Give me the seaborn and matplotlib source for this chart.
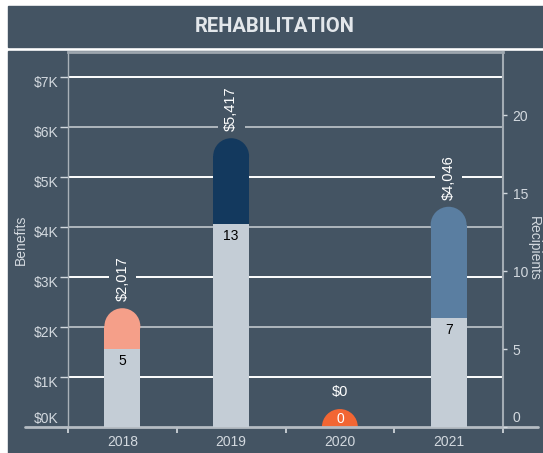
import matplotlib
matplotlib.use('Agg')
import matplotlib.pyplot as plt
from matplotlib.patches import Rectangle, Ellipse
from matplotlib.transforms import ScaledTranslation
import seaborn as sns
import pandas as pd

years = ['2018', '2019', '2020', '2021']
benefits = [2017, 5417, 0, 4046]
recipients = [5, 13, 0, 7]
bar_colors = ['#f59f89', '#13395e', '#f26633', '#5a7ea1']

SLATE = '#445463'
GREY_BAR = '#c4cdd6'
LIGHT = '#d3d9df'

sns.set_style('white')
plt.rcParams['font.family'] = ['Liberation Sans', 'DejaVu Sans']

W, H = 543, 453
fig = plt.figure(figsize=(W / 100, H / 100), dpi=100, facecolor='white')

# background panels
fig.patches.append(Rectangle((8 / W, (H - 47) / H), (W - 8) / W, 41 / H,
                             transform=fig.transFigure, color=SLATE, zorder=-10))
fig.patches.append(Rectangle((8 / W, 0), (W - 8) / W, (H - 51) / H,
                             transform=fig.transFigure, color=SLATE, zorder=-10))
fig.text(275 / W, (H - 26) / H, 'REHABILITATION', ha='center', va='center',
         family='Roboto', weight='bold', fontsize=14.5, color='#e3e7eb')

px_left, px_right, px_bottom, px_top = 68, 503, 427, 52
ax = fig.add_axes([px_left / W, (H - px_bottom) / H,
                   (px_right - px_left) / W, (px_bottom - px_top) / H])
ax.set_facecolor('none')

df = pd.DataFrame({'year': years, 'benefits': benefits, 'recipients': recipients})

bar_w = 0.33
sns.barplot(data=df, x='year', y='benefits', hue='year', palette=bar_colors,
            legend=False, width=bar_w, saturation=1, linewidth=0, ax=ax, zorder=2)
ax.set_ylim(0, 7500)
ax.set_xlim(-0.5, 3.5)

ax2 = ax.twinx()
sns.barplot(data=df, x='year', y='recipients', color=GREY_BAR, width=bar_w,
            saturation=1, linewidth=0, ax=ax2, zorder=2)
ax2.set_ylim(0, 24)

# scale helpers
x_px_per_unit = (px_right - px_left) / 4
y_per_px = 7500 / (px_bottom - px_top)
r2_per_px = 24 / (px_bottom - px_top)
cap_h = 2 * (bar_w / 2 * x_px_per_unit) * y_per_px

# rounded caps on benefit bars
for p in list(ax.patches):
    cx = p.get_x() + p.get_width() / 2
    ax.add_patch(Ellipse((cx, p.get_height()), p.get_width(), cap_h,
                         facecolor=p.get_facecolor(), edgecolor='none', lw=0, zorder=2))

# gridlines
for v in range(1000, 8000, 1000):
    col = '#ffffff' if (v // 1000) % 2 == 1 else '#aeb6bd'
    ax.axhline(v, color=col, lw=1.4, zorder=0.5)

# baseline extending past the axes
ax.plot([-0.1, 1.08], [0, 0], transform=ax.get_yaxis_transform(),
        color='#b5bcc3', lw=2, clip_on=False, zorder=3)

# benefit labels
for i, (b, r) in enumerate(zip(benefits, recipients)):
    txt = f'${b:,}'
    top = b + cap_h / 2
    if len(txt) > 3:
        ax.text(i, top + 7 * y_per_px, txt, rotation=90, ha='center', va='bottom',
                color='white', fontsize=10.5, zorder=4,
                bbox=dict(boxstyle='square,pad=0.45', facecolor=SLATE, edgecolor='none'))
    else:
        ax.text(i, top + 17 * y_per_px, txt, ha='center', va='center',
                color='white', fontsize=10.5, zorder=4)
    if r == 0:
        ax2.text(i, 8 * r2_per_px, str(r), ha='center', va='center',
                 color='white', fontsize=10, zorder=4)
    else:
        ax2.text(i, r - 12 * r2_per_px, str(r), ha='center', va='center',
                 color='black', fontsize=10, zorder=4)

# left axis
ax.set_yticks(range(0, 8000, 1000))
ax.set_yticklabels([f'${k}K' for k in range(8)])
ax.tick_params(axis='y', colors=LIGHT, length=6, width=1, pad=1, labelsize=10, left=True)
ax.set_ylabel('Benefits', color=LIGHT, fontsize=10, labelpad=4)

# nudge tick labels like the original (bottom one lifted off the baseline)
for k, lab in enumerate(ax.get_yticklabels()):
    dy = 10 if k == 0 else -5
    lab.set_transform(lab.get_transform() + ScaledTranslation(0, dy / 100, fig.dpi_scale_trans))

# x axis
ax.set_xticks(range(4))
ax.set_xticklabels(years)
ax.set_xticks([-0.5, 0.5, 1.5, 2.5, 3.5], minor=True)
ax.tick_params(axis='x', which='major', length=0, pad=6, colors=LIGHT, labelsize=10)
ax.tick_params(axis='x', which='minor', length=4, width=1.2, color='#d8dde2', bottom=True)
ax.set_xlabel('')

ax.spines['bottom'].set_visible(False)
ax.spines['left'].set_color('#a9b1b8')
ax.spines['left'].set_linewidth(1)
ax.spines['top'].set_color('#9ea7af')
ax.spines['top'].set_linewidth(2)
ax.spines['right'].set_color('#a3acb4')
ax.spines['right'].set_linewidth(1.5)

# right axis
for s in ax2.spines.values():
    s.set_visible(False)
ax2.set_yticks([0, 5, 10, 15, 20])
ax2.tick_params(axis='y', colors=LIGHT, length=3, width=1, pad=4, labelsize=10, right=True)
ax2.set_ylabel('')
for k, lab in enumerate(ax2.get_yticklabels()):
    dy = 10 if k == 0 else -1
    lab.set_transform(lab.get_transform() + ScaledTranslation(0, dy / 100, fig.dpi_scale_trans))
fig.text(534 / W, (H - 248) / H, 'Recipients', rotation=-90, ha='center', va='center',
         color=LIGHT, fontsize=10)

fig.savefig('out.png', dpi=100, facecolor='white')
